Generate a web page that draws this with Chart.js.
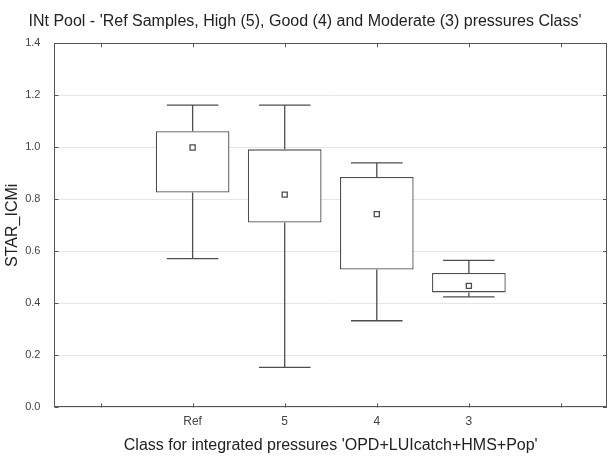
<!DOCTYPE html>
<html>
<head>
<meta charset="utf-8">
<script src="https://cdn.jsdelivr.net/npm/chart.js@4"></script>
<style>
  html, body { margin: 0; padding: 0; background: #fff; }
  #wrap { width: 609px; height: 461px; }
</style>
</head>
<body>
<div id="wrap"><canvas id="boxChart"></canvas></div>
<script>
// Box plot data
const categories = ['Ref', '5', '4', '3'];
const catPos = [1, 2, 3, 4];
const whiskerMax = [1.162, 1.162, 0.940, 0.565];
const boxQ3 = [1.062, 0.992, 0.886, 0.517];
const meanVals = [0.999, 0.818, 0.743, 0.467];
const boxQ1 = [0.826, 0.711, 0.530, 0.442];
const whiskerMin = [0.572, 0.154, 0.333, 0.425];

const xTickPos = [0, 1, 2, 3, 4, 5];
const xTickLabels = ['', 'Ref', '5', '4', '3', ''];
const yTickPos = [0, 0.2, 0.4, 0.6, 0.8, 1.0, 1.2, 1.4];

const capHalf = 0.28;
const lineCol = '#4d4d4d';
const fontFam = 'Liberation Sans, Arial, sans-serif';

// whisker stems and caps, gaps between segments
const whiskerData = [];
catPos.forEach(function(c, i) {
    whiskerData.push({x: c, y: boxQ3[i]}, {x: c, y: whiskerMax[i]}, {x: c, y: null});
    whiskerData.push({x: c - capHalf, y: whiskerMax[i]}, {x: c + capHalf, y: whiskerMax[i]}, {x: c, y: null});
    whiskerData.push({x: c, y: boxQ1[i]}, {x: c, y: whiskerMin[i]}, {x: c, y: null});
    whiskerData.push({x: c - capHalf, y: whiskerMin[i]}, {x: c + capHalf, y: whiskerMin[i]}, {x: c, y: null});
});

// frame and small inward tick marks, like the original
const frameTicks = {
    id: 'frameTicks',
    afterDraw(chart) {
        const {ctx, chartArea: a, scales: {x, y}} = chart;
        ctx.save();
        ctx.strokeStyle = '#555';
        ctx.lineWidth = 1;
        ctx.strokeRect(Math.round(a.left) + 0.5, Math.round(a.top) + 0.5,
            Math.round(a.width) - 1, Math.round(a.height) - 1);
        ctx.beginPath();
        y.ticks.forEach(function(t, i) {
            const py = Math.round(y.getPixelForTick(i)) + 0.5;
            ctx.moveTo(a.left, py); ctx.lineTo(a.left + 4, py);
            ctx.moveTo(a.right - 4, py); ctx.lineTo(a.right, py);
        });
        x.ticks.forEach(function(t, i) {
            const px = Math.round(x.getPixelForTick(i)) + 0.5;
            ctx.moveTo(px, a.bottom); ctx.lineTo(px, a.bottom - 4);
            ctx.moveTo(px, a.top); ctx.lineTo(px, a.top + 4);
        });
        ctx.stroke();
        ctx.restore();
    }
};

const ctx = document.getElementById('boxChart');

new Chart(ctx, {
    type: 'bar',
    data: {
        datasets: [
            {
                type: 'bar',
                label: 'box',
                data: catPos.map(function(c, i) { return {x: c, y: [boxQ1[i], boxQ3[i]]}; }),
                backgroundColor: '#ffffff',
                borderColor: lineCol,
                borderWidth: 1.3,
                borderSkipped: false,
                barPercentage: 0.8,
                categoryPercentage: 1.0,
                order: 2
            },
            {
                type: 'line',
                label: 'whiskers',
                data: whiskerData,
                borderColor: lineCol,
                borderWidth: 1.3,
                pointRadius: 0,
                spanGaps: false,
                fill: false,
                tension: 0,
                order: 1
            },
            {
                type: 'line',
                label: 'mean',
                data: catPos.map(function(c, i) { return {x: c, y: meanVals[i]}; }),
                showLine: false,
                pointStyle: 'rect',
                pointRadius: 3.6,
                pointBackgroundColor: '#ffffff',
                pointBorderColor: lineCol,
                pointBorderWidth: 1.3,
                order: 0
            }
        ]
    },
    options: {
        responsive: true,
        maintainAspectRatio: false,
        animation: false,
        layout: { autoPadding: false, padding: { left: 3, right: 2, top: 0, bottom: 6 } },
        plugins: {
            legend: { display: false },
            tooltip: { enabled: false },
            title: {
                display: true,
                text: "INt Pool - 'Ref Samples, High (5), Good (4) and Moderate (3) pressures Class'",
                color: '#222',
                font: { family: fontFam, size: 16, weight: 'normal' },
                padding: { top: 12, bottom: 12 }
            }
        },
        scales: {
            x: {
                type: 'linear',
                min: -0.5,
                max: 5.5,
                offset: false,
                afterBuildTicks: function(scale) {
                    scale.ticks = xTickPos.map(function(v) { return {value: v}; });
                },
                ticks: {
                    color: '#444',
                    font: { family: fontFam, size: 12 },
                    padding: 7,
                    callback: function(value) {
                        const k = xTickPos.indexOf(value);
                        return k >= 0 ? xTickLabels[k] : '';
                    }
                },
                grid: { display: false, offset: false, drawTicks: false },
                border: { display: false },
                title: {
                    display: true,
                    text: "Class for integrated pressures 'OPD+LUIcatch+HMS+Pop'",
                    color: '#222',
                    font: { family: fontFam, size: 16 },
                    padding: { top: 0, bottom: 0 }
                }
            },
            y: {
                min: 0,
                max: 1.4,
                afterBuildTicks: function(scale) {
                    scale.ticks = yTickPos.map(function(v) { return {value: v}; });
                },
                ticks: {
                    color: '#444',
                    font: { family: fontFam, size: 11 },
                    padding: 14,
                    callback: function(value) { return value.toFixed(1); }
                },
                grid: { color: '#e6e6e6', drawTicks: false },
                border: { display: false },
                title: {
                    display: true,
                    text: 'STAR_ICMi',
                    color: '#222',
                    font: { family: fontFam, size: 16 },
                    padding: { top: 0, bottom: -11 }
                }
            }
        }
    },
    plugins: [frameTicks]
});
</script>
</body>
</html>
